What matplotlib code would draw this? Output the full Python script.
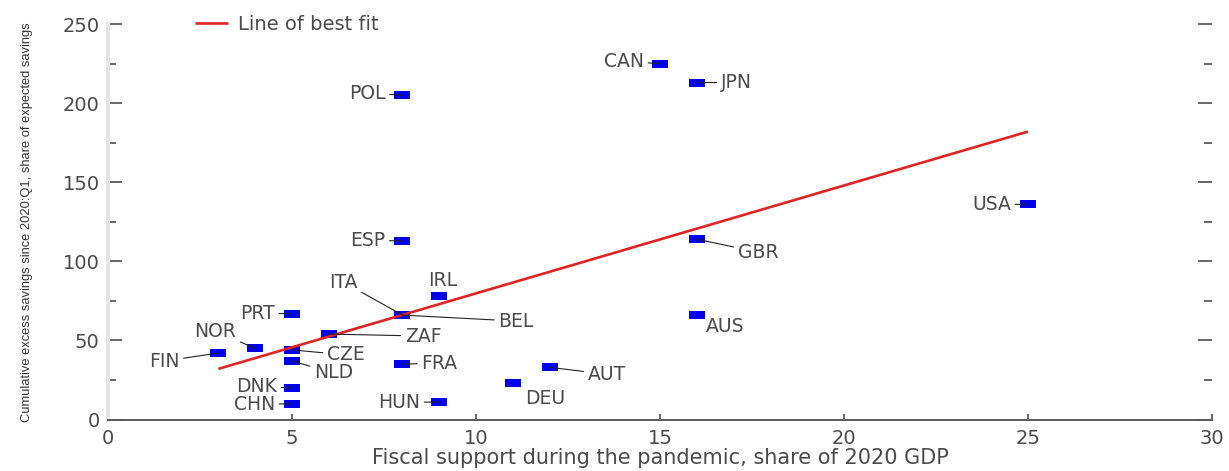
import matplotlib
matplotlib.use("Agg")
import matplotlib.pyplot as plt
from matplotlib.ticker import MultipleLocator
from matplotlib.path import Path

# ---------------- data ----------------
countries = ["CAN", "JPN", "POL", "USA", "ESP", "GBR", "AUS", "IRL", "ITA", "BEL",
             "PRT", "ZAF", "NOR", "CZE", "FIN", "NLD", "FRA", "AUT", "DEU", "DNK",
             "CHN", "HUN"]
fiscal = [15, 16, 8, 25, 8, 16, 16, 9, 8, 8,
          5, 6, 4, 5, 3, 5, 8, 12, 11, 5,
          5, 9]
savings = [225, 213, 205, 136, 113, 114, 66, 78, 66, 66,
           67, 54, 45, 44, 42, 37, 35, 33, 23, 20,
           10, 11]
fit_x = [3, 25]
fit_y = [32, 182]

xticks = [0, 5, 10, 15, 20, 25, 30]
yticks = [0, 50, 100, 150, 200, 250]

# ---------------- layout (label offsets in pixels, alignment, leader) ----------------
label_layout = {
    "CAN": (-16, 2, "right", True),
    "JPN": (24, 0, "left", True),
    "POL": (-17, 2, "right", True),
    "USA": (-17, 0, "right", True),
    "ESP": (-17, 0, "right", True),
    "GBR": (41, -13, "left", True),
    "AUS": (9, -11, "left", False),
    "IRL": (3, 16, "center", False),
    "ITA": (-59, 33, "center", True),
    "BEL": (96, -6, "left", True),
    "PRT": (-17, 0, "right", True),
    "ZAF": (76, -2, "left", True),
    "NOR": (-19, 17, "right", True),
    "CZE": (35, -5, "left", True),
    "FIN": (-39, -8, "right", True),
    "NLD": (22, -12, "left", True),
    "FRA": (19, 1, "left", True),
    "AUT": (38, -7, "left", True),
    "DEU": (12, -15, "left", False),
    "DNK": (-15, 1, "right", True),
    "CHN": (-17, -1, "right", True),
    "HUN": (-19, 0, "right", True),
}

text_col = "#4a4a4a"
axis_col = "#5a5a5a"
blue = "#0000ee"
red = "#e02424"

plt.rcParams["font.family"] = ["DejaVu Sans"]

fig = plt.figure(figsize=(12.29, 4.71), dpi=100)
ax = fig.add_axes([108 / 1229, 51.5 / 471, (1212 - 108) / 1229, (419.5 - 24) / 471])

rect = Path([(-1, -0.5), (1, -0.5), (1, 0.5), (-1, 0.5), (-1, -0.5)],
            [Path.MOVETO, Path.LINETO, Path.LINETO, Path.LINETO, Path.CLOSEPOLY])

ax.plot(fiscal, savings, linestyle="none", marker=rect, markersize=12,
        color=blue, markeredgewidth=0, zorder=3)
ax.plot(fit_x, fit_y, color=red, lw=1.9, zorder=4, label="Line of best fit",
        solid_capstyle="butt")

for name, xv, yv in zip(countries, fiscal, savings):
    dx, dy, ha, leader = label_layout[name]
    kw = {}
    if leader:
        kw["arrowprops"] = dict(arrowstyle="-", color="#222222", lw=0.8,
                                shrinkA=1, shrinkB=0)
    ax.annotate(name, xy=(xv, yv), xytext=(dx, dy), textcoords="offset pixels",
                ha=ha, va="center", fontsize=13.5, color=text_col, zorder=5, **kw)

ax.set_xlim(0, 30)
ax.set_ylim(0, 250)
ax.set_xticks(xticks)
ax.set_yticks(yticks)
ax.yaxis.set_minor_locator(MultipleLocator(25))

ax.spines["top"].set_visible(False)
ax.spines["right"].set_visible(False)
ax.spines["left"].set_color("#e4e4e4")
ax.spines["left"].set_linewidth(3)
ax.spines["bottom"].set_color(axis_col)
ax.spines["bottom"].set_linewidth(1.4)

ax.tick_params(axis="y", which="both", direction="in", left=True, right=True,
               color=axis_col, width=1.3, labelsize=14, labelcolor=text_col, pad=6)
ax.tick_params(axis="y", which="major", length=10)
ax.tick_params(axis="y", which="minor", length=6)
ax.tick_params(axis="x", which="major", direction="in", length=4.5, width=1.3,
               color=axis_col, labelsize=14, labelcolor=text_col, pad=7)

ax.set_xlabel("Fiscal support during the pandemic, share of 2020 GDP",
              fontsize=15, color=text_col, va="center")
ax.xaxis.set_label_coords(0.5, -0.098)
ax.set_ylabel("Cumulative excess savings since 2020:Q1, share of expected savings",
              fontsize=9.3, color="#333333", family="Liberation Sans")
ax.yaxis.set_label_coords(-0.068, 0.5)

leg = ax.legend(loc="center left", bbox_to_anchor=(0.079, 1.0), frameon=False,
                fontsize=14, handlelength=1.7, handletextpad=0.5,
                borderpad=0, borderaxespad=0, labelcolor=text_col)

fig.savefig("out.png", dpi=100)
